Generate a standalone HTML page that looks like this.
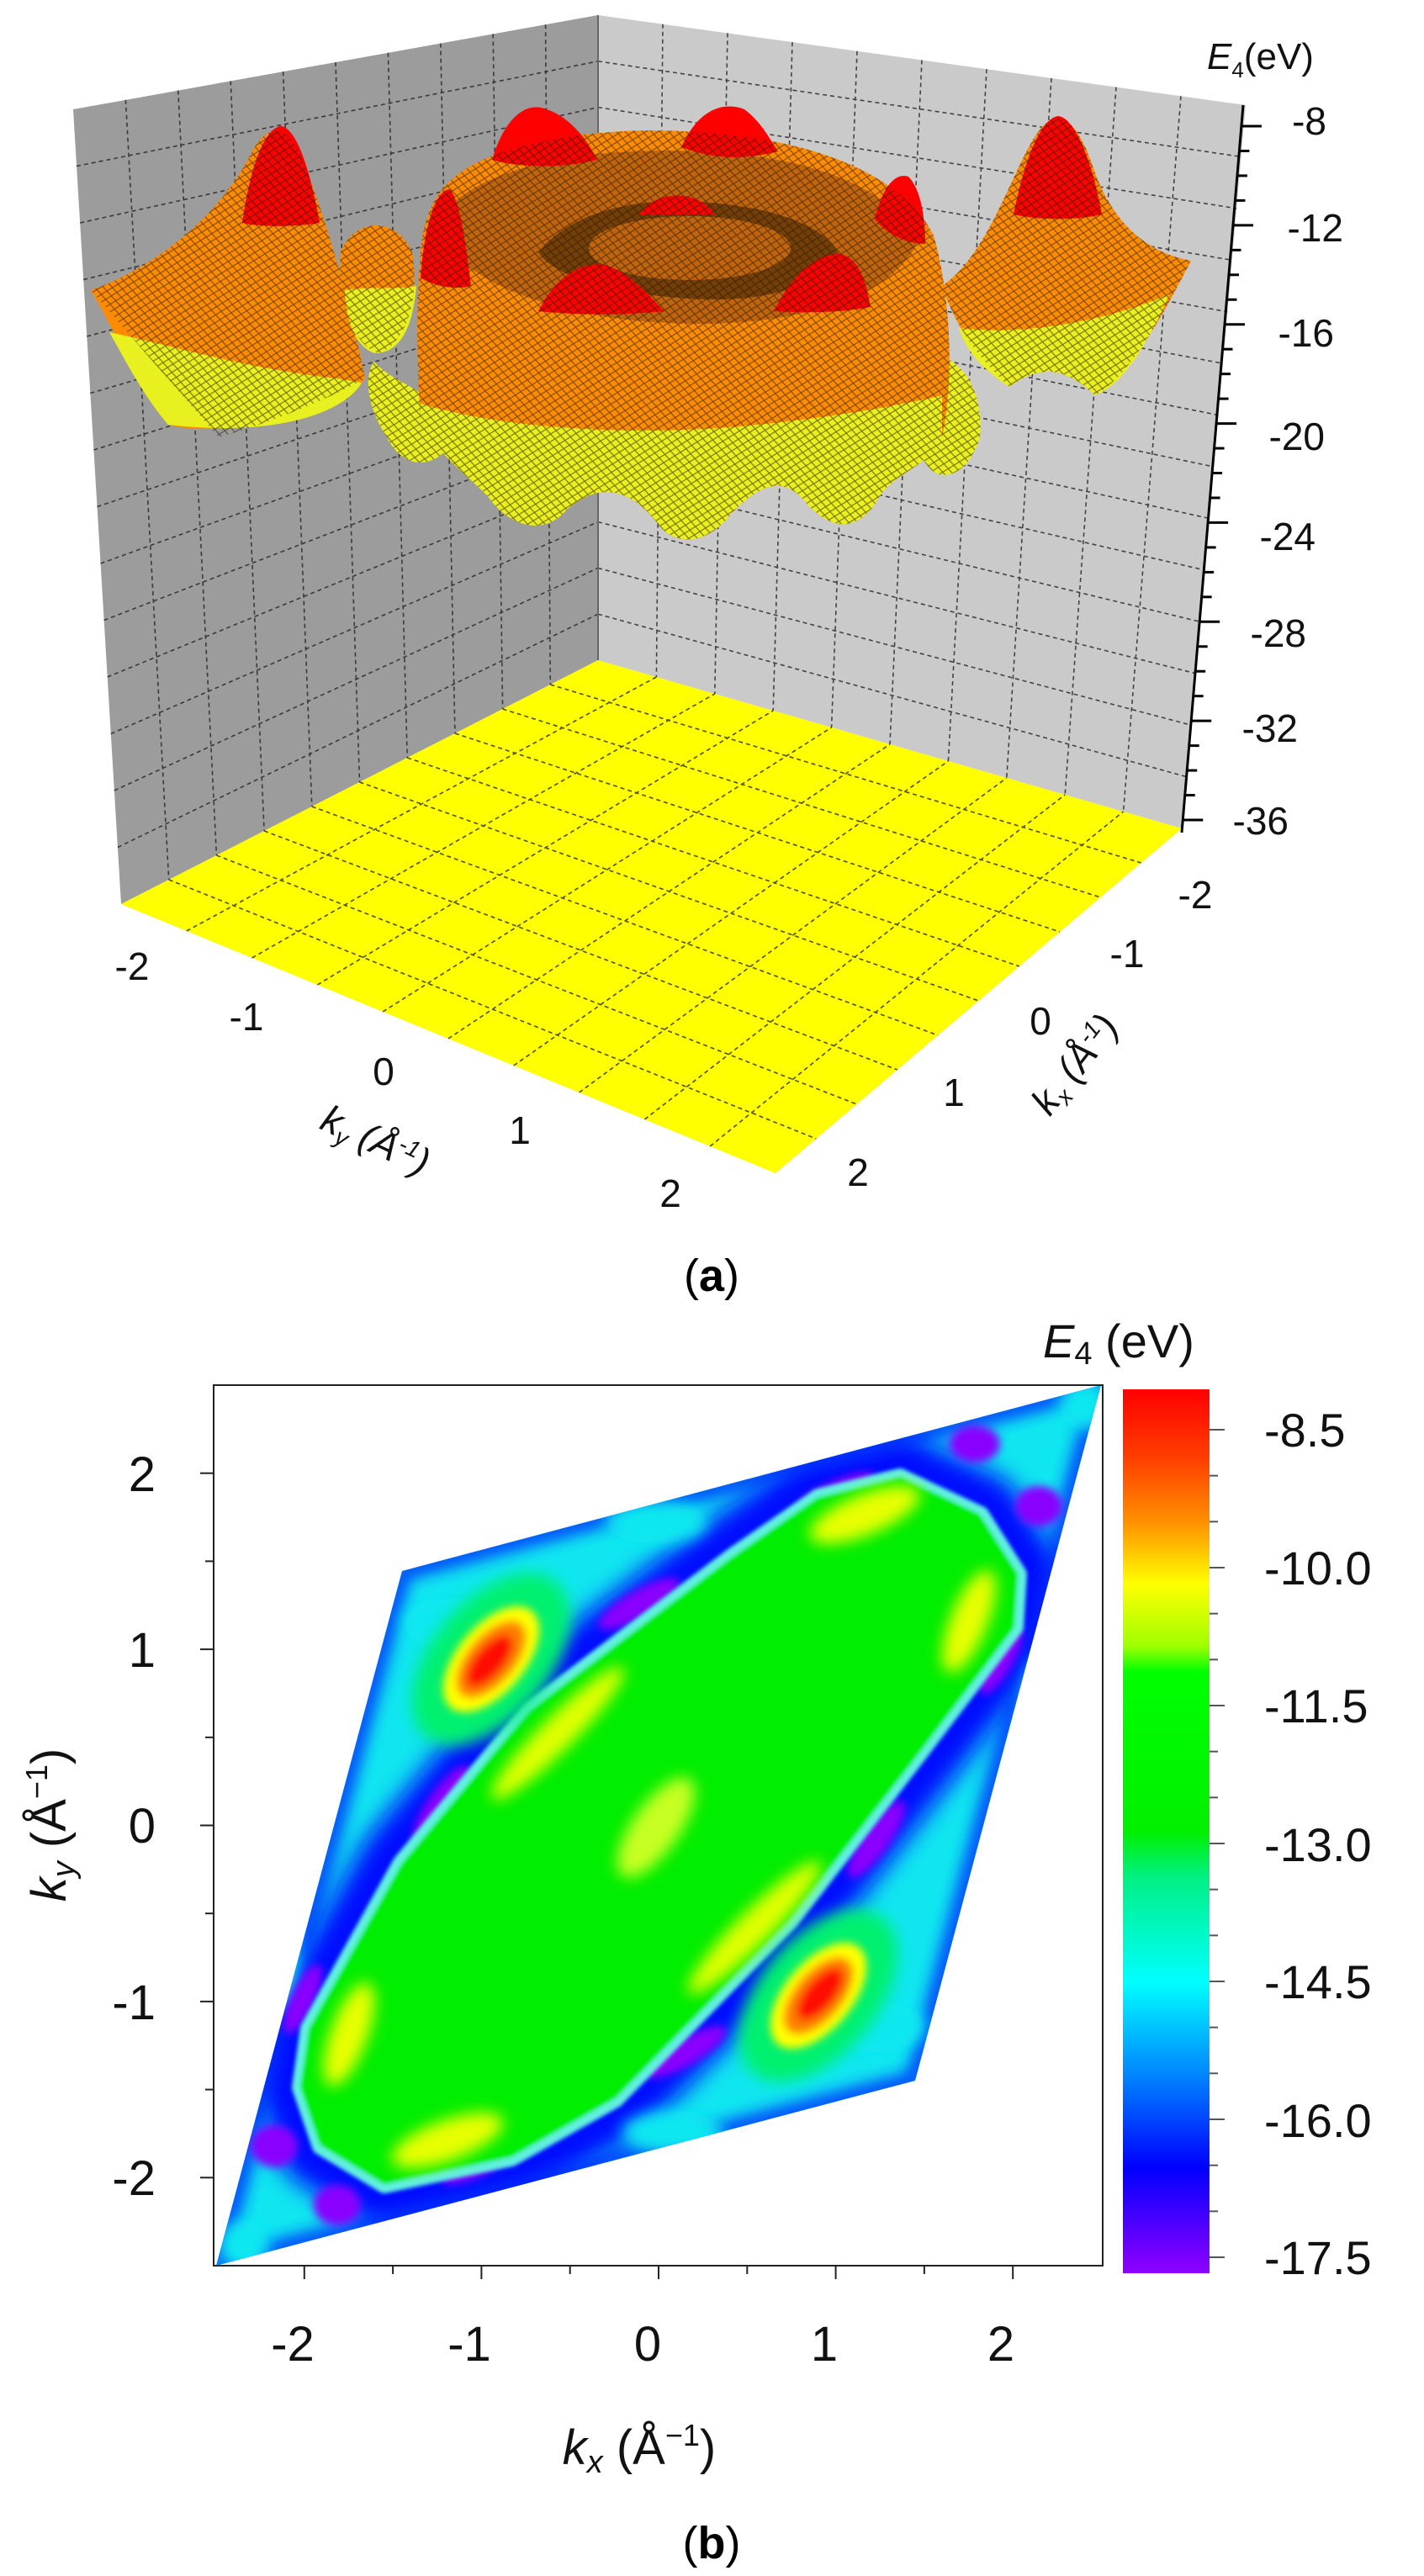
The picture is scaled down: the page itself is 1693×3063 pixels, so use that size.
<!DOCTYPE html>
<html><head><meta charset="utf-8">
<style>
html,body{margin:0;padding:0;background:#fff;}
svg{display:block;}
text{font-family:"Liberation Sans",sans-serif;}
</style></head>
<body>
<svg id="s" width="1693" height="3063" viewBox="0 0 1693 3063" xmlns="http://www.w3.org/2000/svg">
<defs>
<pattern id="mesh" width="12" height="10" patternUnits="userSpaceOnUse" patternTransform="rotate(8)">
<path d="M0 0 L12 10 M12 0 L0 10" stroke="#2a1a00" stroke-width="1.1" opacity="0.6"/>
</pattern>
<filter id="b1" x="-20%" y="-20%" width="140%" height="140%"><feGaussianBlur stdDeviation="14"/></filter>
<filter id="b2" x="-30%" y="-30%" width="160%" height="160%"><feGaussianBlur stdDeviation="9"/></filter>
<filter id="b3" x="-30%" y="-30%" width="160%" height="160%"><feGaussianBlur stdDeviation="5"/></filter>
<filter id="b4" x="-10%" y="-10%" width="120%" height="120%"><feGaussianBlur stdDeviation="2.5"/></filter>
<clipPath id="rh"><polygon points="257,2694 478,1868 1309,1647 1088,2474"/></clipPath>
<linearGradient id="cb" x1="0" y1="0" x2="0" y2="1">
<stop offset="0" stop-color="#ff0000"/>
<stop offset="0.08" stop-color="#ff4000"/>
<stop offset="0.15" stop-color="#ff9000"/>
<stop offset="0.22" stop-color="#ffff00"/>
<stop offset="0.29" stop-color="#a0ff00"/>
<stop offset="0.32" stop-color="#00ff00"/>
<stop offset="0.5" stop-color="#00f000"/>
<stop offset="0.55" stop-color="#00f080"/>
<stop offset="0.67" stop-color="#00ffff"/>
<stop offset="0.78" stop-color="#0080ff"/>
<stop offset="0.88" stop-color="#0000ff"/>
<stop offset="1" stop-color="#9000ff"/>
</linearGradient>
<clipPath id="surfclip">
<path d="M108,345 C180,320 260,260 300,180 C315,150 340,145 355,180 C390,260 420,380 434,450 C400,470 330,500 260,520 200,505 C170,470 140,400 108,345Z"/>
<path d="M405,300 C420,260 470,255 490,300 C500,360 480,410 450,420 C420,410 400,360 405,300Z"/>
<path d="M445,430 C470,460 520,460 540,520 C520,560 480,560 460,520 C440,490 430,450 445,430Z"/>
<path d="M1100,420 C1140,420 1170,460 1165,520 C1150,570 1110,580 1095,540 C1080,500 1085,450 1100,420Z"/>
<path d="M1120,340 C1180,300 1210,180 1240,150 C1258,130 1280,140 1300,200 C1320,260 1360,300 1416,310 C1380,380 1340,450 1302,470 C1270,440 1240,430 1200,460 C1170,430 1140,400 1120,340Z"/>
<path d="M500,300 C505,230 540,200 600,180 C700,150 800,150 900,165 C1000,180 1080,220 1110,280 C1130,350 1135,450 1120,520 C1100,560 1060,560 1040,600 C1010,640 980,620 960,600 C930,560 900,580 870,610 C840,650 800,650 780,620 C740,570 700,580 670,610 C640,640 600,620 580,590 C550,560 520,540 500,500 C495,420 495,360 500,300Z"/>
</clipPath>
</defs>

<!-- walls -->
<polygon points="87,130 711,18 711,785 144,1075" fill="#9c9c9c"/>
<polygon points="711,18 1481,125 1405,985 711,785" fill="#cacaca"/>
<polygon points="144,1075 711,785 1405,985 922,1395" fill="#ffff00"/>
<g id="grid" stroke="#222" stroke-width="1.6" stroke-dasharray="5,4" fill="none" opacity="0.8"></g>
<line x1="711" y1="18" x2="711" y2="785" stroke="#666" stroke-width="2"/>

<!-- surface -->
<g>
<path d="M108,345 C180,320 260,260 300,180 C315,150 340,145 355,180 C390,260 420,380 434,450 C420,470 400,470 380,460 C330,500 260,520 200,505 C170,470 140,400 108,345Z" fill="#ff8c00"/>
<path d="M130,395 C200,410 300,440 400,450 L430,455 C410,490 330,520 200,505 C170,470 150,430 130,395Z" fill="#e8f020"/>
<path d="M288,265 C300,180 320,150 335,150 C355,155 370,210 380,265 C350,270 310,270 288,265Z" fill="#ff0000"/>
<path d="M405,300 C420,260 470,255 490,300 C500,360 480,410 450,420 C420,410 400,360 405,300Z" fill="#ff8c00"/>
<path d="M410,345 C440,340 470,345 495,340 C490,400 470,420 445,420 C420,410 412,380 410,345Z" fill="#e8f020"/>
<path d="M445,430 C470,460 520,460 540,520 C520,560 480,560 460,520 C440,490 430,450 445,430Z" fill="#e8f020"/>
<path d="M1120,340 C1180,300 1210,180 1240,150 C1258,130 1280,140 1300,200 C1320,260 1360,300 1416,310 C1380,380 1340,450 1302,470 C1270,440 1240,430 1200,460 C1170,430 1140,400 1120,340Z" fill="#ff8c00"/>
<path d="M1140,390 C1220,400 1320,380 1390,350 C1360,420 1330,460 1302,470 C1270,440 1240,430 1200,460 C1170,440 1150,420 1140,390Z" fill="#e8f020"/>
<path d="M1205,255 C1220,180 1240,140 1258,138 C1280,140 1300,200 1310,255 C1280,262 1235,262 1205,255Z" fill="#ff0000"/>
<path d="M1100,420 C1140,420 1170,460 1165,520 C1150,570 1110,580 1095,540 C1080,500 1085,450 1100,420Z" fill="#e8f020"/>
<path d="M500,300 C505,230 540,200 600,180 C700,150 800,150 900,165 C1000,180 1080,220 1110,280 C1130,350 1135,450 1120,520 C1100,560 1060,560 1040,600 C1010,640 980,620 960,600 C930,560 900,580 870,610 C840,650 800,650 780,620 C740,570 700,580 670,610 C640,640 600,620 580,590 C550,560 520,540 500,500 C495,420 495,360 500,300Z" fill="#ff8c00"/>
<path d="M500,480 C600,510 760,520 900,505 C1000,495 1080,480 1120,470 L1120,520 C1100,560 1060,560 1040,600 C1010,640 980,620 960,600 C930,560 900,580 870,610 C840,650 800,650 780,620 C740,570 700,580 670,610 C640,640 600,620 580,590 C550,560 520,540 500,500Z" fill="#e8f020"/>
<path d="M540,240 C600,190 720,175 830,180 C960,185 1060,220 1090,290 C1060,350 960,385 830,385 C700,385 580,350 540,300Z" fill="#c0640e"/>
<path d="M640,300 C680,250 760,235 830,240 C920,245 990,270 1000,310 C960,350 880,360 820,355 C730,350 660,330 640,300Z" fill="#5a3206" opacity="0.75"/>
<ellipse cx="820" cy="295" rx="120" ry="38" fill="#c0640e"/>
<path d="M760,255 C780,225 830,225 850,255 Z" fill="#ff0000"/>
<path d="M585,190 C600,140 625,120 650,130 C680,140 700,170 710,190 C670,200 620,200 585,190Z" fill="#ff0000"/>
<path d="M810,175 C830,130 860,120 885,130 C905,145 915,165 925,180 C885,190 850,190 810,175Z" fill="#ff0000"/>
<path d="M500,330 C505,260 520,225 535,225 C548,240 555,300 560,340 C540,345 515,340 500,330Z" fill="#ff0000"/>
<path d="M1040,260 C1050,220 1065,205 1080,210 C1095,225 1100,260 1100,290 C1080,290 1055,280 1040,260Z" fill="#ff0000"/>
<path d="M640,370 C660,330 690,310 720,315 C750,325 770,350 790,370 C740,375 690,375 640,370Z" fill="#ff0000"/>
<path d="M920,370 C940,330 970,300 1000,302 C1025,310 1030,340 1035,365 C1000,372 960,372 920,370Z" fill="#ff0000"/>
<rect x="90" y="110" width="1340" height="560" fill="url(#mesh)" clip-path="url(#surfclip)"/>
</g>

<!-- z axis -->
<line x1="1478" y1="125" x2="1405" y2="990" stroke="#000" stroke-width="3"/>
<g id="zt" stroke="#000" stroke-width="3"></g>
<g font-size="46" text-anchor="end" fill="#111">
<text x="1577" y="160">-8</text><text x="1597" y="287">-12</text><text x="1586" y="412">-16</text>
<text x="1575" y="535">-20</text><text x="1564" y="654">-24</text><text x="1553" y="769">-28</text>
<text x="1543" y="882">-32</text><text x="1532" y="992">-36</text>
</g>
<text x="1435" y="82" font-size="44" fill="#111"><tspan font-style="italic">E</tspan><tspan font-size="26" dy="10">4</tspan><tspan dy="-10">(eV)</tspan></text>
<g font-size="46" fill="#111" text-anchor="middle">
<text x="157" y="1165">-2</text><text x="293" y="1225">-1</text><text x="456" y="1290">0</text>
<text x="618" y="1360">1</text><text x="797" y="1435">2</text>
<text x="1421" y="1080">-2</text><text x="1340" y="1150">-1</text><text x="1237" y="1230">0</text>
<text x="1134" y="1315">1</text><text x="1020" y="1410">2</text>
</g>
<text transform="translate(440,1370) rotate(25)" font-size="46" font-style="italic" fill="#111" text-anchor="middle">k<tspan font-size="28" dy="8">y</tspan><tspan dy="-8"> (Å</tspan><tspan font-size="28" dy="-16">-1</tspan><tspan dy="16">)</tspan></text>
<text transform="translate(1290,1275) rotate(-52)" font-size="46" font-style="italic" fill="#111" text-anchor="middle">k<tspan font-size="28" dy="8">x</tspan><tspan dy="-8"> (Å</tspan><tspan font-size="28" dy="-16">-1</tspan><tspan dy="16">)</tspan></text>
<text x="846" y="1535" font-size="54" text-anchor="middle" font-family="Liberation Serif" fill="#000">(<tspan font-weight="bold">a</tspan>)</text>

<!-- (b) heatmap -->
<g clip-path="url(#rh)">
<rect x="250" y="1640" width="1070" height="1070" fill="#10e6f0"/>
<g filter="url(#b1)">
<polygon points="1070,1756 1166,1801 1211,1872 1207,1935 1090,2089 939,2285 732,2496 608,2566 457,2598 381,2552 357,2482 367,2412 477,2215 629,2033 870,1851 973,1780" fill="none" stroke="#0010ff" stroke-width="100" stroke-linejoin="round"/>
</g>
<g filter="url(#b2)" opacity="0.85">
<line x1="478" y1="1868" x2="1309" y2="1647" stroke="#0020ff" stroke-width="22"/>
<line x1="257" y1="2694" x2="1088" y2="2474" stroke="#0020ff" stroke-width="22"/>
<line x1="478" y1="1868" x2="257" y2="2694" stroke="#0020ff" stroke-width="22"/>
<line x1="1309" y1="1647" x2="1088" y2="2474" stroke="#0020ff" stroke-width="22"/>
</g>
<g filter="url(#b2)">
<ellipse cx="540" cy="1930" rx="60" ry="30" fill="#10e8f0"/>
<ellipse cx="780" cy="1810" rx="60" ry="25" fill="#10e8f0"/>
<ellipse cx="1040" cy="2410" rx="60" ry="30" fill="#10e8f0"/>
<ellipse cx="800" cy="2535" rx="60" ry="25" fill="#10e8f0"/>
<ellipse cx="1240" cy="2030" rx="25" ry="60" fill="#10e8f0"/>
<ellipse cx="330" cy="2330" rx="25" ry="60" fill="#10e8f0"/>
<ellipse cx="290" cy="2670" rx="30" ry="30" fill="#10e8f0"/>
<ellipse cx="1290" cy="1670" rx="30" ry="30" fill="#10e8f0"/>
</g>
<g filter="url(#b3)">
<ellipse cx="1159" cy="1717" rx="30" ry="22" fill="#8a00ff"/>
<ellipse cx="1235" cy="1791" rx="28" ry="24" fill="#8a00ff"/>
<ellipse cx="994" cy="1775" rx="50" ry="14" fill="#8a00ff" transform="rotate(-25 994 1775)"/>
<ellipse cx="1190" cy="1975" rx="14" ry="45" fill="#8a00ff" transform="rotate(30 1190 1975)"/>
<ellipse cx="760" cy="1907" rx="55" ry="16" fill="#8a00ff" transform="rotate(-30 760 1907)"/>
<ellipse cx="525" cy="2145" rx="55" ry="16" fill="#8a00ff" transform="rotate(-55 525 2145)"/>
<ellipse cx="1042" cy="2187" rx="55" ry="16" fill="#8a00ff" transform="rotate(-55 1042 2187)"/>
<ellipse cx="815" cy="2440" rx="55" ry="16" fill="#8a00ff" transform="rotate(-30 815 2440)"/>
<ellipse cx="565" cy="2573" rx="45" ry="16" fill="#8a00ff" transform="rotate(-25 565 2573)"/>
<ellipse cx="326" cy="2552" rx="28" ry="25" fill="#8a00ff"/>
<ellipse cx="401" cy="2622" rx="28" ry="24" fill="#8a00ff"/>
<ellipse cx="360" cy="2377" rx="14" ry="45" fill="#8a00ff" transform="rotate(25 360 2377)"/>
</g>
<g filter="url(#b4)">
<polygon points="1070,1756 1166,1801 1211,1872 1207,1935 1090,2089 939,2285 732,2496 608,2566 457,2598 381,2552 357,2482 367,2412 477,2215 629,2033 870,1851 973,1780" fill="#30f0c0" stroke="#60f0e0" stroke-width="20" stroke-linejoin="round"/>
<polygon points="1070,1763 1160,1806 1203,1873 1199,1933 1084,2085 933,2280 728,2489 606,2558 458,2590 386,2546 364,2481 374,2414 483,2220 634,2039 873,1858 975,1787" fill="#00ee00" stroke="#00ee00" stroke-width="14" stroke-linejoin="round"/>
</g>
<g filter="url(#b2)">
<ellipse cx="584" cy="1973" rx="120" ry="70" fill="#00f070" transform="rotate(-50 584 1973)"/>
<ellipse cx="973" cy="2373" rx="120" ry="70" fill="#00f070" transform="rotate(-50 973 2373)"/>
</g>
<g filter="url(#b2)">
<ellipse cx="1028" cy="1801" rx="70" ry="24" fill="#e8ff00" transform="rotate(-22 1028 1801)"/>
<ellipse cx="1152" cy="1928" rx="65" ry="22" fill="#e8ff00" transform="rotate(-68 1152 1928)"/>
<ellipse cx="663" cy="2061" rx="110" ry="20" fill="#e0ff00" transform="rotate(-45 663 2061)"/>
<ellipse cx="780" cy="2173" rx="70" ry="28" fill="#c8ff20" transform="rotate(-55 780 2173)"/>
<ellipse cx="897" cy="2292" rx="110" ry="20" fill="#e0ff00" transform="rotate(-45 897 2292)"/>
<ellipse cx="415" cy="2419" rx="65" ry="22" fill="#e8ff00" transform="rotate(-70 415 2419)"/>
<ellipse cx="532" cy="2545" rx="70" ry="24" fill="#e8ff00" transform="rotate(-20 532 2545)"/>
</g>
<g filter="url(#b3)">
<ellipse cx="584" cy="1973" rx="75" ry="40" fill="#ffff00" transform="rotate(-50 584 1973)"/>
<ellipse cx="584" cy="1973" rx="55" ry="28" fill="#ff8000" transform="rotate(-50 584 1973)"/>
<ellipse cx="582" cy="1975" rx="38" ry="17" fill="#ff1000" transform="rotate(-50 582 1975)"/>
<ellipse cx="973" cy="2373" rx="75" ry="40" fill="#ffff00" transform="rotate(-50 973 2373)"/>
<ellipse cx="973" cy="2373" rx="55" ry="28" fill="#ff8000" transform="rotate(-50 973 2373)"/>
<ellipse cx="975" cy="2371" rx="38" ry="17" fill="#ff1000" transform="rotate(-50 975 2371)"/>
</g>
</g>
<rect x="254" y="1647" width="1057" height="1047" fill="none" stroke="#222" stroke-width="2"/>
<g id="bt" stroke="#222" stroke-width="2"></g>
<g font-size="58" fill="#111" text-anchor="middle">
<text x="348" y="2807">-2</text><text x="558" y="2807">-1</text><text x="770" y="2807">0</text>
<text x="980" y="2807">1</text><text x="1190" y="2807">2</text>
</g>
<g font-size="58" fill="#111" text-anchor="end">
<text x="185" y="1773">2</text><text x="185" y="1982">1</text><text x="185" y="2191">0</text>
<text x="185" y="2401">-1</text><text x="185" y="2610">-2</text>
</g>
<text transform="translate(78,2170) rotate(-90)" font-size="58" fill="#111" text-anchor="middle"><tspan font-style="italic">k</tspan><tspan font-style="italic" font-size="38" dy="10">y</tspan><tspan dy="-10"> (Å</tspan><tspan font-size="36" dy="-22">−1</tspan><tspan dy="22">)</tspan></text>
<text x="760" y="2930" font-size="58" fill="#111" text-anchor="middle"><tspan font-style="italic">k</tspan><tspan font-style="italic" font-size="38" dy="10">x</tspan><tspan dy="-10"> (Å</tspan><tspan font-size="36" dy="-22">−1</tspan><tspan dy="22">)</tspan></text>
<rect x="1335" y="1652" width="103" height="1051" fill="url(#cb)"/>
<g id="cbt" stroke="#555" stroke-width="2"></g>
<g font-size="56" fill="#111">
<text x="1503" y="1720">-8.5</text><text x="1503" y="1884">-10.0</text><text x="1503" y="2048">-11.5</text>
<text x="1503" y="2213">-13.0</text><text x="1503" y="2376">-14.5</text><text x="1503" y="2541">-16.0</text>
<text x="1503" y="2704">-17.5</text>
</g>
<text x="1240" y="1614" font-size="56" fill="#111"><tspan font-style="italic">E</tspan><tspan font-size="38" dy="8">4</tspan><tspan dy="-8"> (eV)</tspan></text>
<text x="846" y="3042" font-size="54" text-anchor="middle" font-family="Liberation Serif" fill="#000">(<tspan font-weight="bold">b</tspan>)</text>
</svg>
<script>
var NS="http://www.w3.org/2000/svg";
function L(g,a,b){var l=document.createElementNS(NS,"line");l.setAttribute("x1",a[0]);l.setAttribute("y1",a[1]);l.setAttribute("x2",b[0]);l.setAttribute("y2",b[1]);g.appendChild(l);}
function bl(q,u,v){return [q[0][0]*(1-u)*(1-v)+q[1][0]*u*(1-v)+q[2][0]*u*v+q[3][0]*(1-u)*v,q[0][1]*(1-u)*(1-v)+q[1][1]*u*(1-v)+q[2][1]*u*v+q[3][1]*(1-u)*v];}
var g=document.getElementById("grid");
function quad(q,nu,nv){for(var i=1;i<nu;i++){var u=i/nu;L(g,bl(q,u,0),bl(q,u,1));}for(var j=1;j<nv;j++){var v=j/nv;L(g,bl(q,0,v),bl(q,1,v));}}
quad([[144,1075],[711,785],[1405,985],[922,1395]],10,10);
quad([[87,130],[711,18],[711,785],[144,1075]],10,14);
quad([[711,18],[1481,125],[1405,985],[711,785]],10,14);
var zt=document.getElementById("zt");
for(var k=0;k<=28;k++){var y=150+k*(975-150)/28;var x=1478-(y-125)*73/865;L(zt,[x,y],[x+(k%4==0?24:12),y]);}
var c=document.getElementById("cbt");
for(var k=-1;k<=19;k++){var y=1700+k*164/3;if(y<1652||y>2703)continue;L(c,[1438,y],[1438+(k%3==0?18:10),y]);}
var bt=document.getElementById("bt");
for(var k=-2;k<=2;k+=0.5){var x=783+k*210.6;L(bt,[x,2694],[x,2694+(k%1==0?16:10)]);}
for(var k=-2;k<=2;k+=0.5){var y=2170.5-k*209.4;L(bt,[254,y],[254-(k%1==0?16:10),y]);}
</script>
</body></html>
